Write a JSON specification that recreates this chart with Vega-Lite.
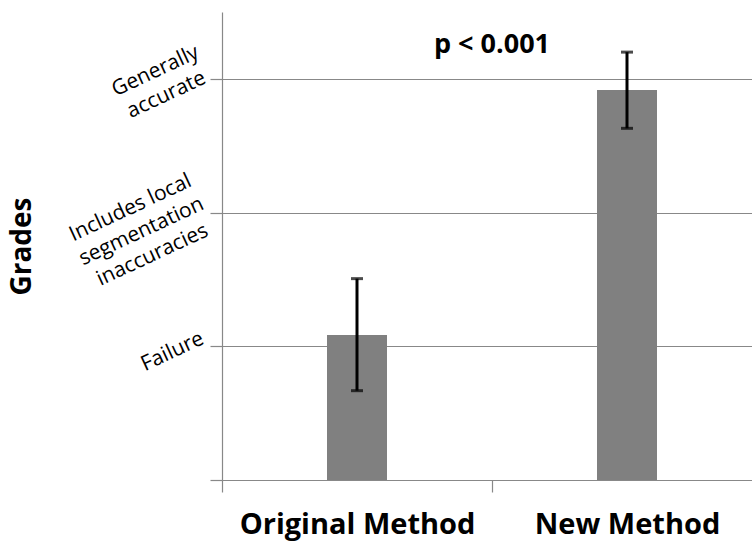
{
  "$schema": "https://vega.github.io/schema/vega-lite/v6.json",
  "width": 530,
  "height": 468,
  "autosize": {"type": "none"},
  "padding": {"left": 222, "top": 12, "right": 0, "bottom": 65},
  "background": "white",
  "config": {
    "view": {"stroke": null},
    "font": "Open Sans",
    "axis": {"domainColor": "#888888", "tickColor": "#888888", "gridColor": "#888888", "domainWidth": 1.2, "tickWidth": 1.2, "gridWidth": 1.2}
  },
  "datasets": {
    "grades": [
      {"method": "Original Method", "mean": 1.085, "lo": 0.668, "hi": 1.506},
      {"method": "New Method", "mean": 2.917, "lo": 2.63, "hi": 3.2}
    ],
    "note": [
      {"method": "New Method", "y": 3.25, "label": "p < 0.001"}
    ]
  },
  "layer": [
    {
      "data": {"name": "grades"},
      "mark": {"type": "bar", "color": "#808080", "size": 60},
      "encoding": {
        "x": {
          "field": "method", "type": "nominal", "sort": ["Original Method", "New Method"],
          "scale": {"range": [0, 540], "paddingInner": 0, "paddingOuter": 0},
          "axis": {
            "title": null, "labelAngle": 0, "tickBand": "extent", "tickSize": 12,
            "labelFontSize": 29, "labelFontWeight": "bold", "labelColor": "black",
            "labelPadding": 18, "labelLimit": 0, "grid": false
          }
        },
        "y": {
          "field": "mean", "type": "quantitative",
          "scale": {"domain": [0, 3.5], "nice": false},
          "axis": {
            "title": "Grades", "titleFontSize": 28, "titleFontWeight": "bold", "titleColor": "black",
            "titlePadding": 28,
            "values": [0, 1, 2, 3], "grid": true, "tickSize": 12, "labelOverlap": false,
            "labelExpr": "datum.value == 3 ? ['Generally', 'accurate'] : datum.value == 2 ? ['Includes local', 'segmentation', 'inaccuracies'] : datum.value == 1 ? 'Failure' : ''",
            "labelAngle": -25, "labelAlign": "center", "labelBaseline": "middle",
            "labelFontSize": 21, "labelColor": "black", "labelLineHeight": 26,
            "labelPadding": {"condition": [{"test": "datum.value == 3", "value": 55}, {"test": "datum.value == 2", "value": 80}], "value": 38},
            "labelOffset": {"condition": [{"test": "datum.value == 3", "value": -8}, {"test": "datum.value == 2", "value": -5}], "value": 5}
          }
        }
      }
    },
    {
      "data": {"name": "grades"},
      "mark": {"type": "errorbar", "ticks": {"size": 12}, "thickness": 3, "color": "black"},
      "encoding": {
        "x": {"field": "method", "type": "nominal", "sort": ["Original Method", "New Method"]},
        "y": {"field": "lo", "type": "quantitative", "title": "Grades"},
        "y2": {"field": "hi"}
      }
    },
    {
      "data": {"name": "note"},
      "mark": {"type": "text", "fontSize": 27, "fontWeight": "bold", "color": "black", "baseline": "middle", "align": "center"},
      "encoding": {
        "x": {"field": "method", "type": "nominal", "bandPosition": 0, "sort": ["Original Method", "New Method"]},
        "y": {"field": "y", "type": "quantitative", "title": "Grades"},
        "text": {"field": "label"}
      }
    }
  ]
}
